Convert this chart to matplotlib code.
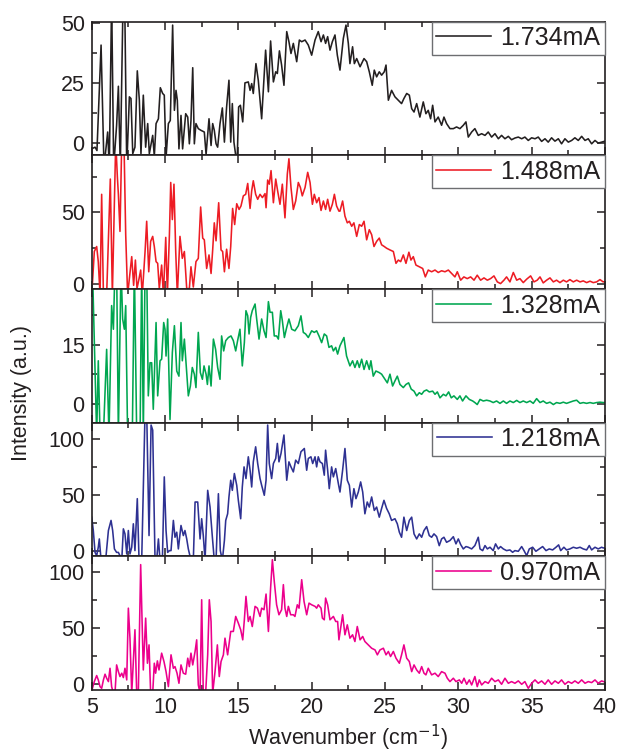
import matplotlib
matplotlib.use("Agg")
import matplotlib.pyplot as plt
from matplotlib.ticker import MultipleLocator

plt.rcParams["font.family"] = ["Liberation Sans", "DejaVu Sans"]

# ---- data (wavenumber in cm^-1, intensity in a.u.) ----
currents = ["1.734mA", "1.488mA", "1.328mA", "1.218mA", "0.970mA"]
colors = ["#231F20", "#ED1C24", "#00A650", "#2E3192", "#EC008C"]

wn_1734 = [5.0, 5.23, 5.36, 5.64, 5.84, 6.09, 6.2, 6.36, 6.5, 6.7,
           6.82, 6.95, 7.14, 7.25, 7.39, 7.57, 7.68, 7.8, 7.95, 8.11,
           8.25, 8.36, 8.52, 8.68, 8.82, 8.93, 9.16, 9.27, 9.39, 9.55,
           9.68, 9.84, 9.95, 10.07, 10.23, 10.36, 10.52, 10.64, 10.75, 10.84,
           10.95, 11.09, 11.2, 11.41, 11.55, 11.66, 11.77, 11.89, 12.0, 12.11,
           12.27, 12.45, 12.68, 12.8, 13.0, 13.14, 13.25, 13.36, 13.48, 13.59,
           13.75, 13.91, 14.05, 14.2, 14.36, 14.48, 14.59, 14.7, 14.82, 14.93,
           15.02, 15.14, 15.3, 15.45, 15.68, 15.8, 15.91, 16.02, 16.2, 16.36,
           16.59, 16.86, 17.05, 17.2, 17.39, 17.55, 17.66, 17.8, 17.95, 18.11,
           18.3, 18.45, 18.59, 18.75, 18.98, 19.16, 19.32, 19.55, 19.77, 20.0,
           20.23, 20.45, 20.64, 20.8, 20.95, 21.09, 21.25, 21.41, 21.59, 21.75,
           21.93, 22.16, 22.34, 22.5, 22.61, 22.79, 22.91, 23.07, 23.3, 23.57,
           23.75, 23.93, 24.13, 24.27, 24.43, 24.61, 24.77, 24.95, 25.07, 25.23,
           25.45, 25.68, 25.91, 26.13, 26.29, 26.48, 26.66, 26.82, 26.98, 27.16,
           27.38, 27.61, 27.79, 27.95, 28.11, 28.25, 28.41, 28.63, 28.86, 29.02,
           29.2, 29.43, 29.66, 29.88, 30.11, 30.34, 30.52, 30.68, 30.91, 31.13,
           31.36, 31.59, 31.82, 32.04, 32.27, 32.5, 32.73, 32.95, 33.18, 33.41,
           33.63, 33.86, 34.09, 34.32, 34.54, 34.77, 35.0, 35.23, 35.45, 35.68,
           35.91, 36.13, 36.36, 36.59, 36.82, 37.04, 37.27, 37.5, 37.73, 37.95,
           38.18, 38.41, 38.64, 38.86, 39.09, 39.32, 39.54, 39.77, 40.0]
int_1734 = [-2.4, -1.7, -3.1, 40.7, -10, 4.6, -10, 60, -10, 7.4,
            23.6, -10, 60, 60, -10, 19.2, 18.5, -4.4, -1.7, 30,
            17.8, -4.4, 19.9, -1.7, 8.1, -4.4, 3.2, -5.5, 8.1, 10.1,
            23, 20.6, 19.9, -6, 8.1, 9.4, 49, 13.6, 21.9, 17.8,
            -2.4, 11.5, -2.4, 12.2, 10.8, -0.3, 9.4, 31.3, -0.3, 8.1,
            6, 5.3, 4.6, -4.7, 10.1, -1, 8.1, 5.3, -0.3, -1.7,
            8.1, 14.6, 0.4, 15, 26.1, 0.4, 16.4, 0.4, -5.1, -5.1,
            15, 15.7, 8.8, 25, 25.4, 21.9, 24.7, 20.6, 33, 26.1,
            10.1, 38.6, 21.3, 42.4, 25.4, 29.6, 28.9, 38.3, 32.4, 24,
            46.3, 42.1, 37.2, 41.4, 33.8, 42.8, 42.1, 42.8, 40.7, 36.5,
            42.8, 46.3, 42.1, 44.9, 41.4, 44.2, 38.6, 42.1, 44.9, 36.5,
            30.3, 43.5, 49, 41.4, 33, 40, 33, 35.1, 31.7, 35.1,
            33.8, 29.6, 24, 30.3, 27.5, 29.6, 28.2, 29.6, 32.4, 17.8,
            21.9, 19.2, 17.8, 16.4, 18.5, 20.6, 19.9, 14.3, 12.9, 16.4,
            10.8, 17.1, 12.2, 13.6, 10.1, 15.7, 8.8, 10.8, 7.4, 10.8,
            8.1, 6, 6, 6.7, 6, 7.4, 8.8, 2.5, 4.6, 6,
            3.2, 3.9, 3.2, 4.6, 2.5, 3.9, 1.8, 3.2, 1.8, 2.8,
            1.4, 2.1, 2.5, 1.8, 2.5, 1.1, 2.2, 1.8, 2.5, 0.7,
            1.8, 0.4, 2.2, 0.8, 1.8, -0.3, 1.8, 0.4, 1.1, 2.2,
            1.1, 2.8, 1.1, 1.8, -0.3, 1.1, 0, 0.4, 0.8]

wn_1488 = [5.05, 5.18, 5.34, 5.45, 5.57, 5.68, 5.8, 6.02, 6.27, 6.41,
           6.64, 6.75, 6.82, 6.93, 7.05, 7.2, 7.32, 7.45, 7.57, 7.73,
           7.86, 7.98, 8.09, 8.23, 8.34, 8.45, 8.64, 8.75, 8.89, 9.02,
           9.16, 9.27, 9.39, 9.5, 9.61, 9.77, 9.89, 10.05, 10.16, 10.3,
           10.39, 10.5, 10.61, 10.73, 10.84, 11.02, 11.18, 11.32, 11.48, 11.66,
           11.77, 11.93, 12.11, 12.27, 12.43, 12.57, 12.68, 12.84, 13.0, 13.14,
           13.25, 13.36, 13.48, 13.66, 13.82, 13.93, 14.05, 14.2, 14.36, 14.48,
           14.61, 14.75, 14.89, 15.05, 15.18, 15.34, 15.5, 15.64, 15.8, 15.91,
           16.02, 16.18, 16.32, 16.48, 16.64, 16.82, 16.89, 17.0, 17.11, 17.23,
           17.39, 17.55, 17.68, 17.84, 18.0, 18.18, 18.34, 18.45, 18.59, 18.75,
           18.91, 19.09, 19.23, 19.36, 19.55, 19.73, 19.89, 20.05, 20.18, 20.34,
           20.5, 20.64, 20.8, 20.95, 21.09, 21.25, 21.41, 21.55, 21.7, 21.86,
           21.93, 22.11, 22.27, 22.43, 22.57, 22.73, 22.88, 23.07, 23.25, 23.41,
           23.57, 23.75, 23.93, 24.09, 24.25, 24.43, 24.61, 24.77, 24.95, 25.11,
           25.34, 25.57, 25.75, 25.91, 26.07, 26.25, 26.43, 26.63, 26.77, 26.93,
           27.11, 27.34, 27.57, 27.75, 27.95, 28.18, 28.41, 28.63, 28.86, 29.09,
           29.32, 29.55, 29.77, 29.93, 30.16, 30.38, 30.61, 30.84, 31.07, 31.29,
           31.52, 31.75, 31.98, 32.2, 32.43, 32.66, 32.88, 33.11, 33.29, 33.52,
           33.75, 33.98, 34.2, 34.43, 34.66, 34.93, 35.16, 35.38, 35.57, 35.79,
           36.02, 36.25, 36.48, 36.7, 36.93, 37.16, 37.38, 37.61, 37.84, 38.07,
           38.3, 38.52, 38.75, 38.98, 39.2, 39.43, 39.66, 39.88, 40.0]
int_1488 = [0, 22.5, 26, 15.4, -8, 62.6, -8, -8, 73.3, -8,
            100, 75, 62.6, 36.6, 100, 100, 34.3, -8, 3.5, 18.9,
            -1.2, 16.5, -3.5, 3.5, 9.5, -8, 22.5, 43.7, 8.3, 29.6,
            33.1, 26, 15.4, 14.2, -3.5, 13, -8, 32.4, -8, 34.3,
            70.9, 44.9, 69.7, 22.5, -8, 33.1, 17.7, 22.5, -3.5, -3.5,
            11.8, -2.4, 15.4, 17.7, 53.7, 31.9, 30.7, 10.6, 20.1, 7.1,
            23.6, 42.6, 30, 56.7, 23.6, 22.5, 8.3, 24.1, 10.6, 26,
            52.7, 41.4, 56, 52, 54.4, 61.5, 62.6, 70.2, 52.7, 65,
            72.1, 62.6, 59.1, 62.6, 60.3, 63.1, 53.2, 72.6, 69.7, 79.2,
            56.7, 73.3, 65, 55.6, 69.7, 46.1, 76.8, 87.5, 67.4, 52,
            57.9, 70.9, 67.4, 61.5, 67.4, 78, 70.9, 55.6, 62.6, 56.7,
            60.3, 51.3, 57.9, 52, 59.1, 50.8, 55.6, 62.6, 54.4, 50.8,
            50.8, 57.9, 47.3, 42.6, 43.7, 40.2, 42.6, 33.1, 41.4, 40.2,
            43.7, 30.7, 37.8, 34.3, 26, 29.6, 31.9, 27.2, 26, 24.8,
            23.6, 22.5, 14.2, 16.5, 15.4, 20.1, 14.2, 22, 16.5, 18.9,
            13, 11.8, 10.6, 4.7, 9.5, 8.3, 9.5, 7.8, 9, 8.3,
            9.5, 7.1, 4.7, 8.3, 2.4, 4.7, 3.5, 4.7, 2.4, 5.9,
            2.4, 4, 2.4, 3.5, 5.4, 1.2, 0, 2.4, 4.7, 1.2,
            7.8, 2.4, 3.5, 0.7, 3.1, 5.4, 1.2, 2.4, 4.7, 0.5,
            2.4, 4, 1.2, 2.4, 0.7, 2.4, 1.2, 2.8, 1.2, 2.4,
            1.2, 1.9, 0.7, 1.7, 0.7, 1.2, 2.8, 1.2, 1.5]

wn_1328 = [5.05, 5.34, 5.45, 5.57, 5.8, 6.02, 6.18, 6.36, 6.48, 6.59,
           6.7, 6.82, 7.0, 7.11, 7.23, 7.32, 7.45, 7.77, 7.91, 8.07,
           8.3, 8.41, 8.52, 8.64, 8.75, 8.86, 8.98, 9.09, 9.2, 9.32,
           9.39, 9.5, 9.66, 9.77, 9.91, 10.0, 10.07, 10.18, 10.34, 10.5,
           10.64, 10.8, 10.95, 11.09, 11.18, 11.32, 11.43, 11.59, 11.73, 11.86,
           12.0, 12.11, 12.27, 12.41, 12.55, 12.66, 12.8, 12.89, 13.0, 13.14,
           13.3, 13.45, 13.59, 13.75, 13.86, 14.0, 14.14, 14.32, 14.5, 14.66,
           14.82, 14.95, 15.11, 15.27, 15.41, 15.52, 15.64, 15.73, 15.84, 15.95,
           16.14, 16.25, 16.41, 16.59, 16.75, 16.89, 17.05, 17.16, 17.32, 17.45,
           17.61, 17.73, 17.89, 18.0, 18.14, 18.3, 18.45, 18.64, 18.86, 19.09,
           19.27, 19.43, 19.59, 19.77, 20.0, 20.18, 20.34, 20.5, 20.68, 20.86,
           21.02, 21.18, 21.36, 21.48, 21.64, 21.77, 21.93, 22.2, 22.38, 22.61,
           22.79, 22.95, 23.11, 23.25, 23.41, 23.57, 23.75, 23.93, 24.04, 24.2,
           24.38, 24.61, 24.77, 25.0, 25.16, 25.34, 25.52, 25.68, 25.84, 26.02,
           26.25, 26.43, 26.61, 26.79, 26.98, 27.16, 27.34, 27.5, 27.66, 27.84,
           28.02, 28.25, 28.41, 28.57, 28.75, 28.98, 29.16, 29.34, 29.52, 29.7,
           29.93, 30.11, 30.29, 30.52, 30.75, 30.98, 31.13, 31.29, 31.48, 31.7,
           31.93, 32.16, 32.38, 32.61, 32.84, 33.07, 33.29, 33.52, 33.75, 33.98,
           34.2, 34.43, 34.66, 34.89, 35.11, 35.34, 35.57, 35.79, 36.02, 36.25,
           36.48, 36.7, 36.93, 37.16, 37.38, 37.61, 37.84, 38.07, 38.3, 38.52,
           38.75, 38.98, 39.2, 39.43, 39.66, 39.88, 40.0]
int_1328 = [35, -8, 10.9, -8, -8, 13.8, -8, 24.9, 18.9, 35,
            35, -8, 35, 21.5, 18.9, 24.9, -8, -8, 35, -8,
            -8, 35, -8, 35, 35, 2, 10.4, 10.4, -1.4, 13,
            20.6, 2, 10.9, 11.3, 20.6, 18.9, 12.1, 21.5, -4, 13,
            19.8, 8.3, 7, 20.6, 10.9, 16.4, 10.4, 2, 4.5, 9.2,
            7.5, 4.1, 18.1, 7.9, 6.2, 9.6, 7.5, 4.9, 9.6, 4.5,
            16.4, 13.8, 9.2, 6.2, 17.2, 13.4, 16, 16.8, 17.2, 16,
            13.4, 16, 18.9, 9.6, 15.5, 23.6, 22.3, 17.7, 21.9, 23.6,
            25.3, 21.5, 16.4, 21.5, 18.5, 16.8, 25.9, 23.2, 23.2, 17.2,
            17.2, 16.4, 23.6, 21.1, 16.8, 19.4, 21.5, 18.9, 18.5, 19.8,
            22.3, 18.1, 17.7, 16.8, 18.5, 18.1, 18.5, 17.2, 15.5, 17.7,
            17.2, 14.3, 14.7, 13.4, 14.3, 12.6, 14.7, 16.8, 12.1, 9.6,
            10.9, 9.2, 10.9, 9.2, 11.3, 8.7, 10.9, 8.7, 10.9, 7,
            8.3, 7.9, 7.5, 6.2, 5.3, 7.5, 4.5, 5.8, 7, 4.9,
            4.1, 4.9, 5.3, 3.7, 3.2, 2, 2.8, 2.4, 3.2, 3.5,
            3, 3.2, 2.4, 3, 1.5, 2.4, 2, 3, 1.5, 2,
            1.1, 2, 0.7, 2, 1.1, 0.7, 0.3, -0.2, 1.1, 0.7,
            0.9, 0.7, 0.3, 0.7, 0.1, 0.7, 0.1, 0.7, 0.3, 0.85,
            0.3, 0.7, 0.3, 0.7, 0.1, 1.3, 0.3, 0.7, 0.1, 0.4,
            -0.2, 0.3, 0.1, 0.4, 0.1, 0.4, 0.7, 0.9, 0.1, 0.3,
            0.1, 0.3, 0.1, 0.3, 0.4, 0.3, 0.3]

wn_1218 = [5.0, 5.11, 5.23, 5.34, 5.45, 5.52, 5.64, 5.95, 6.14, 6.32,
           6.43, 6.55, 6.7, 6.82, 6.93, 7.05, 7.16, 7.27, 7.39, 7.5,
           7.61, 7.73, 7.84, 7.95, 8.11, 8.23, 8.41, 8.52, 8.64, 8.75,
           8.91, 9.05, 9.16, 9.32, 9.43, 9.55, 9.66, 9.82, 9.95, 10.07,
           10.18, 10.3, 10.41, 10.57, 10.68, 10.8, 10.91, 11.09, 11.25, 11.36,
           11.48, 11.59, 11.77, 11.93, 12.05, 12.23, 12.39, 12.5, 12.61, 12.73,
           12.91, 13.07, 13.23, 13.36, 13.48, 13.64, 13.77, 13.91, 14.05, 14.14,
           14.27, 14.36, 14.48, 14.59, 14.73, 14.89, 15.0, 15.16, 15.27, 15.39,
           15.52, 15.68, 15.8, 15.91, 16.02, 16.18, 16.32, 16.48, 16.59, 16.77,
           16.89, 17.0, 17.11, 17.27, 17.39, 17.55, 17.66, 17.77, 17.91, 18.11,
           18.3, 18.45, 18.59, 18.75, 18.91, 19.09, 19.27, 19.5, 19.66, 19.77,
           19.95, 20.07, 20.23, 20.34, 20.45, 20.57, 20.73, 20.86, 20.95, 21.09,
           21.2, 21.36, 21.48, 21.64, 21.82, 21.93, 22.11, 22.27, 22.43, 22.57,
           22.73, 22.88, 23.02, 23.18, 23.34, 23.48, 23.63, 23.79, 23.93, 24.09,
           24.27, 24.43, 24.61, 24.77, 24.93, 25.11, 25.29, 25.45, 25.68, 25.84,
           25.98, 26.13, 26.29, 26.48, 26.66, 26.82, 26.98, 27.16, 27.34, 27.5,
           27.66, 27.84, 28.02, 28.18, 28.34, 28.52, 28.7, 28.86, 29.02, 29.2,
           29.43, 29.66, 29.84, 30.0, 30.16, 30.34, 30.52, 30.68, 30.91, 31.13,
           31.36, 31.48, 31.66, 31.82, 31.98, 32.16, 32.38, 32.54, 32.73, 32.88,
           33.07, 33.29, 33.52, 33.7, 33.86, 34.09, 34.32, 34.48, 34.66, 34.84,
           35.07, 35.29, 35.52, 35.75, 35.98, 36.2, 36.43, 36.66, 36.84, 36.98,
           37.2, 37.38, 37.61, 37.84, 38.07, 38.3, 38.52, 38.75, 38.93, 39.09,
           39.32, 39.54, 39.77, 39.88, 40.0]
int_1218 = [30.4, 18.5, -1, -4, 3.6, 11, -8, -8, 18.5, 27.5,
            18.5, 2.1, -1, -1, -4, -8, 20, 15.5, -2.4, 18.5,
            -2.4, 3.6, 24.5, 0.6, 46.9, -8, -8, 57.3, 125, 125,
            14, 112.5, 108, -8, -8, 11, -8, -8, 66.3, 18.5,
            -1, 0.6, 0.6, 27.5, 12.5, 17, 2.1, 23, 14, 18.5,
            11, 2.1, -8, -8, 43.9, 43.9, 11, 29, 14, -8,
            54.3, 39.4, 12.5, -8, -8, 51.3, 0.6, -8, 9.6, 27.5,
            33.4, 48.4, 63.3, 54.3, 69.3, 58.8, 45.4, 29, 57.3, 75.2,
            64.8, 84.2, 72.2, 57.3, 79.7, 93.1, 78.2, 64.8, 58.8, 49.9,
            63.3, 112.5, 78.2, 64.8, 78.2, 82.7, 96.1, 79.7, 87.2, 103.6,
            63.3, 79.7, 75.2, 70.7, 81.2, 78.2, 88.7, 91.6, 72.2, 82.7,
            84.2, 78.2, 84.2, 75.2, 84.2, 79.7, 78.2, 67.8, 90.1, 72.2,
            55.8, 75.2, 66.3, 73.7, 60.3, 52.8, 72.2, 91.6, 63.3, 58.8,
            39.4, 55.8, 46.9, 52.8, 61.8, 52.8, 33.4, 43.9, 39.4, 48.4,
            36.4, 39.4, 30.4, 38.2, 45.4, 38.2, 33.4, 27.5, 29, 24.5,
            17, 12.5, 30.4, 18.5, 27.5, 30.4, 15.5, 11, 15.5, 12.5,
            18.5, 22, 14, 12.5, 15.5, 13.1, 5, 11, 12.5, 8,
            9.6, 13, 6.6, 11, 6, 2.1, 4.2, 3.6, 2.1, 5.1,
            12.5, 2.1, 0.6, 5.1, 2.1, 3.6, 0.6, 6.6, 2.1, 4.2,
            2.1, 0.6, 1.2, -0.9, 0.6, 0, 4.2, 0.6, -3.9, 2.1,
            3.6, 0, 2.1, 4.2, 0.6, 2.1, 1.2, 3.6, 5.7, 0.6,
            3.6, 1.2, 2.1, 3.6, 2.7, 3.6, 2.1, 1.2, 5.1, 1.2,
            3.6, 2.1, 3.6, 3, 3]

wn_0970 = [5.05, 5.18, 5.34, 5.45, 5.57, 5.68, 5.8, 5.91, 6.02, 6.14,
           6.25, 6.36, 6.48, 6.59, 6.7, 6.82, 6.93, 7.05, 7.16, 7.27,
           7.39, 7.5, 7.61, 7.73, 7.95, 8.07, 8.18, 8.34, 8.52, 8.68,
           8.8, 8.91, 9.02, 9.16, 9.27, 9.36, 9.48, 9.59, 9.77, 9.93,
           10.07, 10.23, 10.41, 10.57, 10.68, 10.82, 10.95, 11.09, 11.25, 11.41,
           11.55, 11.66, 11.77, 11.89, 12.05, 12.16, 12.27, 12.39, 12.5, 12.61,
           12.77, 12.91, 13.02, 13.14, 13.25, 13.41, 13.57, 13.7, 13.82, 13.98,
           14.09, 14.27, 14.36, 14.48, 14.66, 14.82, 15.0, 15.16, 15.3, 15.41,
           15.52, 15.68, 15.8, 15.95, 16.14, 16.3, 16.48, 16.59, 16.75, 16.89,
           17.05, 17.2, 17.32, 17.45, 17.61, 17.77, 17.95, 18.07, 18.18, 18.3,
           18.41, 18.57, 18.75, 18.86, 19.02, 19.14, 19.32, 19.48, 19.66, 19.82,
           20.0, 20.23, 20.34, 20.45, 20.64, 20.73, 20.86, 20.95, 21.09, 21.25,
           21.48, 21.64, 21.77, 21.86, 22.11, 22.27, 22.43, 22.61, 22.79, 22.95,
           23.11, 23.3, 23.48, 23.63, 23.86, 24.09, 24.32, 24.48, 24.66, 24.89,
           25.07, 25.23, 25.38, 25.57, 25.75, 25.98, 26.13, 26.29, 26.48, 26.66,
           26.82, 26.98, 27.16, 27.34, 27.5, 27.66, 27.79, 27.95, 28.18, 28.41,
           28.63, 28.86, 29.09, 29.25, 29.43, 29.66, 29.84, 30.07, 30.23, 30.39,
           30.57, 30.75, 30.91, 31.13, 31.29, 31.43, 31.59, 31.82, 32.04, 32.27,
           32.5, 32.73, 32.95, 33.18, 33.41, 33.63, 33.86, 34.09, 34.32, 34.54,
           34.77, 35.0, 35.23, 35.45, 35.68, 35.91, 36.13, 36.36, 36.59, 36.82,
           37.04, 37.27, 37.5, 37.73, 37.95, 38.18, 38.41, 38.64, 38.86, 39.09,
           39.32, 39.54, 39.77, 40.0]
int_0970 = [-3.6, 2.4, 7.8, 3.9, -2.1, -3.6, 3.9, 9, 5.4, 2.4,
            14.3, -2.1, -8, -8, 17.3, 11.3, 6.9, 9.9, 6, 14.3,
            3.9, 68, 41.2, -8, 48.7, -8, -8, 106.9, 12.8, 59.1,
            18.8, 35.2, -8, -8, 18.8, 9.9, 20.9, 12.8, 27.8, 20.3,
            11.3, -2.1, 26.3, 14.3, 15.8, 9.9, 0.9, 17.3, 9.9, 9,
            23.3, 15.8, 27.8, 17.3, 29.3, 39.7, -0.6, -8, 75.5, -8,
            -8, 26.3, 75.5, 56.1, -8, 11.3, 35.2, 6.9, 20.3, 26.3,
            41.2, 26.3, 35.2, 47.2, 47.2, 60.6, 54.6, 48.7, 39.7, 57.6,
            78.5, 56.1, 60.6, 51.6, 69.6, 68, 60.6, 68, 66.6, 80.6,
            47.2, 86, 111.3, 91.9, 71, 62.1, 66.6, 89, 68, 60.6,
            69.6, 62.1, 62.1, 60.6, 71, 68, 93.4, 74, 62.1, 72.5,
            71, 69.6, 68, 71, 68, 59.1, 57.6, 77, 71, 57.6,
            60.6, 56.1, 56.1, 39.7, 62.1, 44.2, 53.1, 41.2, 44.2, 38.2,
            51.6, 39.7, 42.7, 38.2, 35.2, 32.2, 30.7, 26.3, 30.7, 32.2,
            26.3, 29.3, 24.8, 29.3, 23.3, 18.8, 26.3, 35.2, 23.3, 20.3,
            11.3, 17.3, 12.8, 9.9, 15.8, 9.9, 8.4, 14.3, 8.4, 9.9,
            6.9, 11.3, 9.9, 5.4, 2.4, 5.4, 2.4, 3.9, 0.9, 5.4,
            0, 3.9, -0.6, 6.9, -2.1, 3.9, -0.6, 2.4, 0.9, 5.4,
            2.4, 3.9, 0, 5.4, 0.9, 2.4, 0.9, 3, 0, 2.4,
            -3.6, 0.9, 3.9, 0.9, 3, 0, 3.9, 0, 3, 0.9,
            3.9, 0, 2.4, 0.9, 3, 0.9, 3.9, 0.9, 2.4, 1.5,
            3.9, 0.9, 3, 2]

wavenumbers = [wn_1734, wn_1488, wn_1328, wn_1218, wn_0970]
intensities = [int_1734, int_1488, int_1328, int_1218, int_0970]

# per-panel y range and tick spacing (major, minor)
ylims = [(-5.1, 50.4), (-3.8, 89.9), (-4.8, 29.1), (-4.5, 114.6), (-5.1, 114.3)]
yticks = [(25, 12.5), (50, 25), (15, 7.5), (50, 25), (50, 25)]

INK = "#231F20"
fig, axes = plt.subplots(5, 1, sharex=True, figsize=(6.17, 7.54), dpi=100)
fig.subplots_adjust(left=0.1486, right=0.9805, top=0.9712, bottom=0.0849, hspace=0)

for ax, wn, inten, lab, c, yl, (maj, mnr) in zip(axes, wavenumbers, intensities,
                                                  currents, colors, ylims, yticks):
    ax.plot(wn, inten, color=c, lw=1.15, label=lab)
    ax.set_xlim(5, 40); ax.set_ylim(*yl)
    ax.xaxis.set_major_locator(MultipleLocator(5)); ax.xaxis.set_minor_locator(MultipleLocator(2.5))
    ax.yaxis.set_major_locator(MultipleLocator(maj)); ax.yaxis.set_minor_locator(MultipleLocator(mnr))
    ax.tick_params(which="both", direction="in", top=True, right=True, color=INK,
                   width=1.1, labelsize=15.5, labelcolor=INK, pad=5)
    ax.tick_params(which="major", length=6)
    ax.tick_params(which="minor", length=3.5)
    for s in ax.spines.values():
        s.set_linewidth(1.2); s.set_color(INK)
    leg = ax.legend(loc="upper right", fontsize=18, handlelength=2.2, handletextpad=0.36,
                    borderpad=0.18, borderaxespad=0, fancybox=False, framealpha=1)
    leg.get_frame().set_edgecolor("#6D6E71"); leg.get_frame().set_linewidth(1.0)
    for t in leg.get_texts(): t.set_color(INK)

fig.text(22 / 617, 1 - 393 / 754, "Intensity (a.u.)", rotation=90, ha="center",
         va="center", fontsize=15.5, color=INK)
fig.text(348 / 617, 1 - 738 / 754, "Wavenumber (cm$^{-1}$)", ha="center", va="center",
         fontsize=15.5, color=INK)

fig.savefig("out.png", dpi=100)
